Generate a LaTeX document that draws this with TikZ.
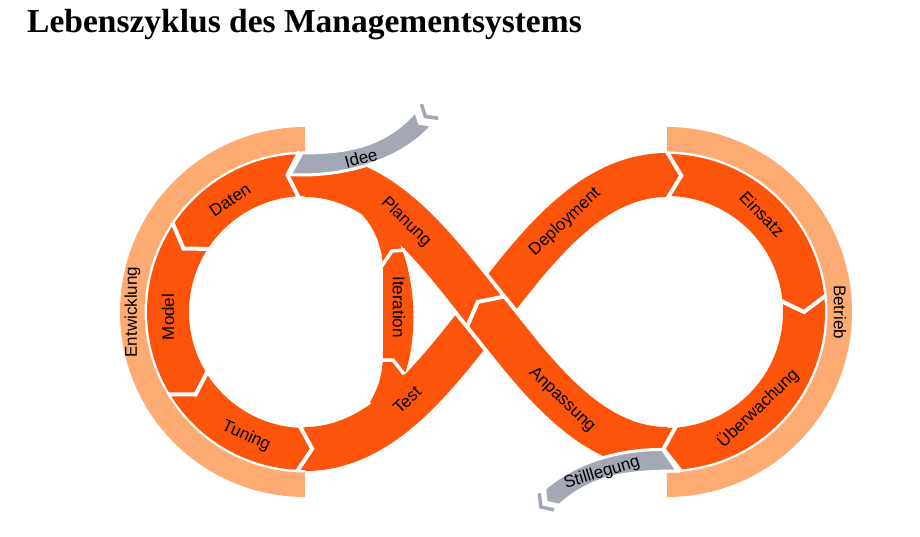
\documentclass[tikz,border=0pt]{standalone}
\usepackage{fontspec}
\setmainfont{Liberation Sans}
\newfontfamily\titlefont{Liberation Serif}
\definecolor{OR}{RGB}{252,84,10}
\definecolor{LO}{RGB}{253,170,115}
\definecolor{GR}{RGB}{163,168,180}
\begin{document}
\begin{tikzpicture}[x=1pt,y=-1pt,
  band/.style={draw=OR, line width=44pt},
  ring/.style={draw=OR, line width=42pt},
  light/.style={draw=LO, line width=24.5pt},
  gap/.style={draw=white, line width=4pt, line join=miter},
  igap/.style={draw=white, line width=3.5pt, line join=miter},
  grayband/.style={fill=GR, draw=white, line width=3pt, line join=miter},
  feather/.style={draw=GR, line width=3.5pt, line join=miter},
  lbl/.style={font=\fontsize{17}{20}\selectfont, inner sep=0pt},
]
\useasboundingbox (0,0) rectangle (920,537);
\fill[white] (0,0) rectangle (920,537);

% named reference points
\coordinate (L) at (305,312);
\coordinate (R) at (667,312);
\coordinate (X) at (486,312);
\coordinate (TL) at (305,175);
\coordinate (BL) at (305,449);
\coordinate (TR) at (667,175);
\coordinate (BR) at (667,449);
\coordinate (Xa) at (460.9,280.9);
\coordinate (Xb) at (511.1,343.1);

% light outer arcs
\draw[light] plot[domain=90:270, samples=91] ({305+172.75*cos(\x)},{312+172.75*sin(\x)});
\draw[light] plot[domain=-90:90, samples=91] ({667+172.75*cos(\x)},{312+172.75*sin(\x)});

% orange rings (slightly overlapping the S-bands to avoid seams)
\draw[ring] plot[domain=88:272, samples=93] ({305+137*cos(\x)},{312+137*sin(\x)});
\draw[ring] plot[domain=-92:92, samples=93] ({667+137*cos(\x)},{312+137*sin(\x)});

% Test - Deployment band (underneath)
\draw[band] (BL) .. controls (385,449) and (440,369) .. (X) .. controls (532,255) and (587,175) .. (TR);
% white border of the upper band at the crossing
\draw[white, line width=52pt] (Xa) -- (Xb);
% Planung - Anpassung band (on top)
\draw[band] (TL) .. controls (385,175) and (440,255) .. (X) .. controls (532,369) and (587,449) .. (BR);

% Iteration body
\fill[OR] (352,206) .. controls (372,220) and (383,245) .. (383,270) -- (383,350)
  .. controls (383,372) and (380,385) .. (370,402) -- (385,420) -- (395,410) -- (404,376)
  .. controls (416,345) and (418,290) .. (401,247) -- (395,232) -- (370,205) -- cycle;

% grey arrows
\filldraw[grayband] (290,175) -- (302,153) .. controls (350,153) and (386.6,144.9) .. (415.6,110.9)
  -- (419.5,123.3) -- (432.4,125.1) .. controls (403.4,159.1) and (350,175) .. (302,175) -- cycle;
\draw[feather] (421.4,104.1) -- (425.3,116.5) -- (438.2,118.3);
\filldraw[grayband] (662.5,449.5) -- (677.5,471) .. controls (625,471) and (592.3,476.3) .. (559.3,505.3)
  -- (546,502.3) -- (544.7,488.7) .. controls (577.7,459.7) and (625,449) .. (662.5,449.5) -- cycle;
\draw[feather] (539.4,493.3) -- (540.75,506.9) -- (554,509.9);

% chevron gaps between segments
\draw[gap] (299.5,151.5) -- (287.5,175) -- (300,200);
\draw[gap] (172.4,222.5) -- (183.5,248.7) -- (211.3,248.8);
\draw[gap] (167.9,394.4) -- (195.6,394.5) -- (208.2,370.2);
\draw[gap] (296.6,471.8) -- (312.2,448.8) -- (299.1,424.8);
\draw[gap] (667,152) -- (681.3,175.7) -- (667,199);
\draw[gap] (826.1,295.3) -- (804,312) -- (779.4,300.2);
\draw[gap] (681,471.4) -- (663.4,449) -- (676.9,424.6);
\draw[gap] (505.4,296.3) -- (477.8,301.9) -- (466.6,327.7);
\draw[igap] (379,270) -- (392,251) -- (405,250);
\draw[igap] (379,360) -- (393,360) -- (404,374);

% labels
\node[lbl, rotate=34] (tDaten) at (230,200) {Daten};
\node[lbl, rotate=90] (tModel) at (168,317) {Model};
\node[lbl, rotate=-25] (tTuning) at (246,436) {Tuning};
\node[lbl, rotate=43] (tTest) at (407,400) {Test};
\node[lbl, rotate=-44] (tPlan) at (406,222) {Planung};
\node[lbl, rotate=-90] (tIter) at (399,307) {Iteration};
\node[lbl, rotate=15] (tIdee) at (361,158) {Idee};
\node[lbl, rotate=90] (tEntw) at (132.5,312) {Entwicklung};
\node[lbl, rotate=43] (tDep) at (565,222) {Deployment};
\node[lbl, rotate=-46] (tEins) at (762,214) {Einsatz};
\node[lbl, rotate=44] (tUeb) at (758,408) {Überwachung};
\node[lbl, rotate=-44] (tAnp) at (562,400) {Anpassung};
\node[lbl, rotate=-90] (tBetr) at (840,312) {Betrieb};
\node[lbl, rotate=17] (tStill) at (602,473) {Stilllegung};
\node[anchor=base west, inner sep=0pt, font=\titlefont\bfseries\fontsize{33.5}{36}\selectfont] (title) at (27,33) {Lebenszyklus des Managementsystems};
\end{tikzpicture}
\end{document}
